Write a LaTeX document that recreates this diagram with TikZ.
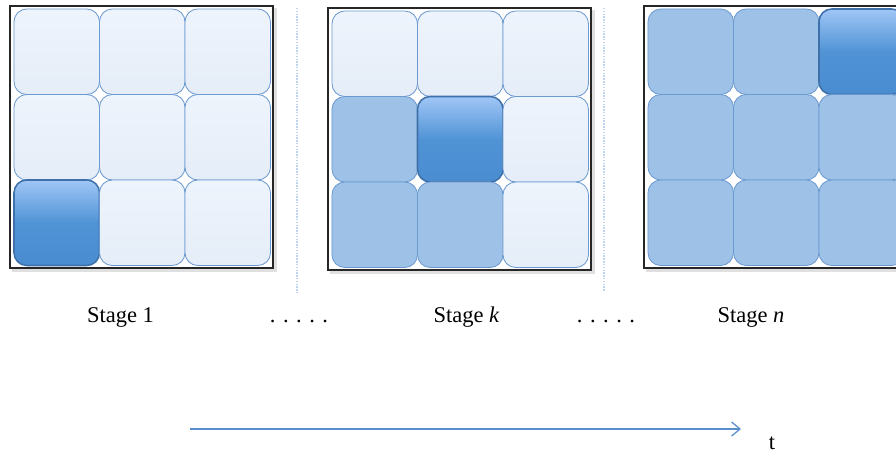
\documentclass[tikz,border=0pt]{standalone}
\usepackage{fontspec}
\setmainfont{Liberation Serif}
\usepackage{tikz}
\usetikzlibrary{arrows.meta}
\definecolor{cellline}{RGB}{108, 154, 208}
\definecolor{litetop}{RGB}{238, 244, 252}
\definecolor{litebot}{RGB}{229, 237, 248}
\definecolor{midblue}{RGB}{158, 193, 231}
\definecolor{hottop}{RGB}{160, 198, 246}
\definecolor{hotmid}{RGB}{80, 147, 213}
\definecolor{hotbot}{RGB}{74, 140, 208}
\definecolor{hotline}{RGB}{62, 112, 170}
\definecolor{arrowblue}{RGB}{91, 143, 204}
\definecolor{sepblue}{RGB}{190, 212, 238}

\tikzset{
  cell/.style={rectangle, rounded corners=0.32cm, minimum size=2.1375cm, inner sep=0pt,
    draw=cellline, line width=0.6pt},
  litecell/.style={cell, top color=litetop, bottom color=litebot},
  midcell/.style={cell, fill=midblue},
  hotcell/.style={cell, draw=hotline, line width=1.1pt,
    top color=hottop, bottom color=hotbot, middle color=hotmid},
  framebox/.style={draw=black!85, line width=0.9pt, fill=white},
  sepline/.style={sepblue, line width=1pt, densely dotted},
  stagetext/.style={font=\fontsize{16}{19}\selectfont, anchor=base, inner sep=0pt},
  timeline/.style={arrowblue, line width=0.9pt, -{Straight Barb[length=6pt,width=10pt]}}
}

% one 3x3 stage: name, left, top, kinds of the nine cells
\newcommand{\stagegrid}[4]{%
  \fill[black!12] (#2-2,#3-1) rectangle ++(265,264);
  \draw[framebox] (#2-4,#3-3) rectangle ++(263,262);
  \foreach \kind [count=\i from 0] in {#4} {
    \pgfmathtruncatemacro{\rowi}{\i/3}
    \pgfmathtruncatemacro{\coli}{mod(\i,3)}
    \node[\kind] (#1\rowi\coli) at ({#2+(\coli+0.5)*85.5}, {#3+(\rowi+0.5)*85.5}) {};
  }
}

\begin{document}
\begin{tikzpicture}[x=0.025cm, y=-0.025cm]
    \useasboundingbox (0,0) rectangle (896,454);
    \clip (0,0) rectangle (896,454);

    % Stages
    \stagegrid{a}{14}{9}{litecell,litecell,litecell,litecell,litecell,litecell,hotcell,litecell,litecell}
    \stagegrid{b}{332}{11}{litecell,litecell,litecell,midcell,hotcell,litecell,midcell,midcell,litecell}
    \stagegrid{c}{648}{9}{midcell,midcell,hotcell,midcell,midcell,midcell,midcell,midcell,midcell}

    % Separators
    \draw[sepline] (297,8) -- (297,293);
    \draw[sepline] (604,8) -- (604,292);

    % Stage names
    \node[stagetext] (stage1) at (120.5,322) {Stage 1};
    \node[stagetext] (dotsa) at (299,322) {. . . . .};
    \node[stagetext] (stagek) at (466.5,322) {Stage \textit{k}};
    \node[stagetext] (dotsb) at (606,322) {. . . . .};
    \node[stagetext] (stagen) at (751,322) {Stage \textit{n}};

    % Time axis
    \coordinate (tstart) at (190,429);
    \coordinate (tend) at (741,429);
    \draw[timeline] (tstart) -- (tend);
    \node[stagetext] (tlabel) at (772,449) {t};
\end{tikzpicture}
\end{document}
